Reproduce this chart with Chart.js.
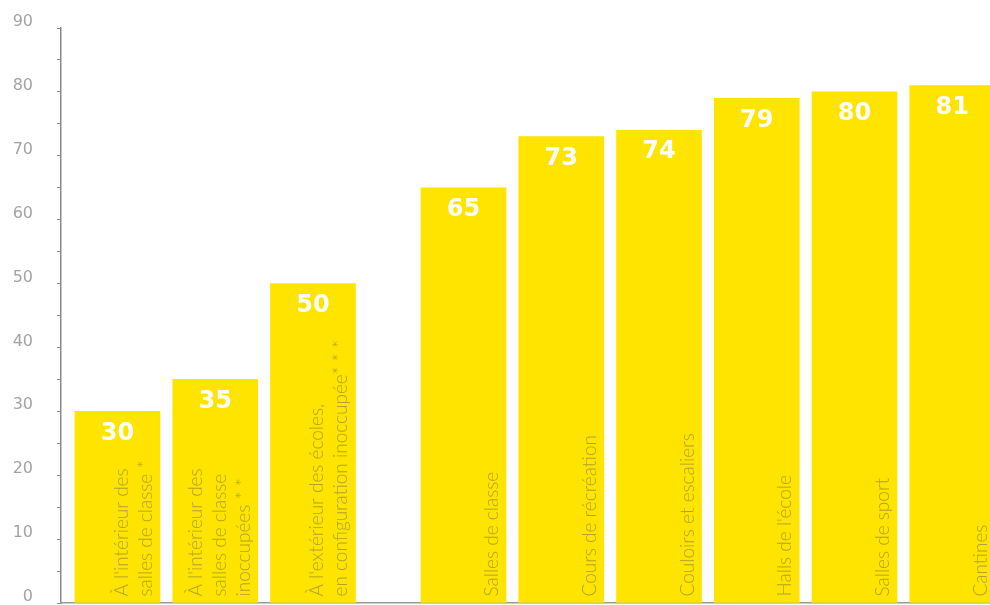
<!DOCTYPE html>
<html>
<head>
<meta charset="utf-8">
<script src="https://cdn.jsdelivr.net/npm/chart.js@4"></script>
<style>
  html, body { margin: 0; padding: 0; background: #ffffff; }
  #wrap { width: 990px; height: 605px; position: relative; }
</style>
</head>
<body>
<div id="wrap"><canvas id="c"></canvas></div>
<script>
// ---- data ----
const categories = [
  ["À l'intérieur des", "salles de classe *"],
  ["À l'intérieur des", "salles de classe", "inoccupées * *"],
  ["À l'extérieur des écoles,", "en configuration inoccupée* * *"],
  ["Salles de classe"],
  ["Cours de récréation"],
  ["Couloirs et escaliers"],
  ["Halls de l'école"],
  ["Salles de sport"],
  ["Cantines"]
];
const values = [30, 35, 50, 65, 73, 74, 79, 80, 81];
const yTickValues = [0, 10, 20, 30, 40, 50, 60, 70, 80, 90];

// ---- layout constants ----
const GROUP_BREAK = 3;   // bars from this index start the second group
const GROUP_GAP = 0.54;  // extra space (in slot units) between groups
const BAR_COLOR = '#FFE400';
const CAT_COLOR = '#b3a328';
const LINE_H = 24;

const points = values.map((v, i) => ({ x: i + (i >= GROUP_BREAK ? GROUP_GAP : 0), y: v }));

const labelPlugin = {
  id: 'barLabels',
  afterDatasetsDraw(chart) {
    const ctx = chart.ctx;
    const meta = chart.getDatasetMeta(0);
    ctx.save();
    meta.data.forEach((bar, i) => {
      const p = bar.getProps(['x', 'y', 'base', 'width'], true);
      // value label
      ctx.fillStyle = '#ffffff';
      ctx.font = 'bold 24px "DejaVu Sans", sans-serif';
      ctx.textAlign = 'center';
      ctx.textBaseline = 'middle';
      ctx.fillText(String(values[i]), p.x, p.y + 22);
      // category label, rotated, bottom-up
      const lines = categories[i];
      const right = p.x + p.width / 2;
      ctx.font = '300 19px Lato, "Open Sans", sans-serif';
      ctx.fillStyle = CAT_COLOR;
      ctx.textAlign = 'left';
      ctx.textBaseline = 'alphabetic';
      lines.forEach((line, j) => {
        const bx = right - 8 - (lines.length - 1 - j) * LINE_H;
        ctx.save();
        ctx.translate(bx, p.base - 6);
        ctx.rotate(-Math.PI / 2);
        ctx.fillText(line, 0, 0);
        ctx.restore();
      });
    });
    ctx.restore();
  }
};

new Chart(document.getElementById('c'), {
  type: 'bar',
  data: {
    datasets: [{
      data: points,
      backgroundColor: BAR_COLOR,
      borderWidth: 0,
      barThickness: 85
    }]
  },
  options: {
    responsive: true,
    maintainAspectRatio: false,
    animation: false,
    layout: { autoPadding: false, padding: { top: 28, bottom: 2, left: 0, right: 0 } },
    plugins: { legend: { display: false }, tooltip: { enabled: false } },
    scales: {
      x: {
        type: 'linear',
        min: -0.578,
        max: 8.926,
        offset: false,
        z: 1,
        ticks: { display: false, stepSize: 100 },
        grid: { display: false, drawTicks: false },
        border: { display: true, color: '#9a9a9a', width: 1.5 }
      },
      y: {
        min: 0,
        max: 90,
        afterFit(scale) {
          scale.width = 61;
          scale.paddingTop = 0;
          scale.paddingBottom = 0;
        },
        afterBuildTicks(scale) {
          const t = [];
          for (let v = 0; v <= 90; v += 5) t.push({ value: v });
          scale.ticks = t;
        },
        ticks: {
          padding: 24,
          labelOffset: -6,
          color: '#a3a3a3',
          font: { family: '"DejaVu Sans", sans-serif', size: 16 },
          callback: (v) => yTickValues.includes(v) ? String(v) : ''
        },
        grid: { display: true, drawOnChartArea: false, drawTicks: true, tickLength: 4, color: '#8a8a8a', lineWidth: 1 },
        border: { display: true, color: '#8a8a8a', width: 1.5 }
      }
    }
  },
  plugins: [labelPlugin]
});
</script>
</body>
</html>
